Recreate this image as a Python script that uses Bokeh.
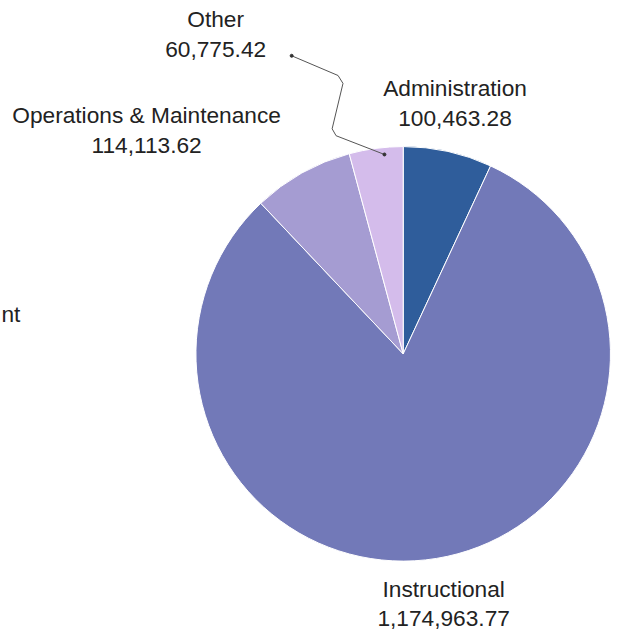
import math
from bokeh.plotting import figure
from bokeh.models import Range1d, ColumnDataSource
from bokeh.core.properties import value
from bokeh.embed import file_html
from bokeh.resources import INLINE

# ---- data ----
categories = ["Administration", "Instructional", "Operations & Maintenance", "Other"]
amounts = [100463.28, 1174963.77, 114113.62, 60775.42]
colors = ["#2F5D9B", "#7279B8", "#A59CD2", "#D4BCEB"]

W, H = 615, 633
S = 0.987  # scale reference layout (623x641) to fit canvas
TXT_DY = 9  # compensate svg baseline offset

def X(px):
    return px * S

def Y(py):
    return H - py * S

p = figure(width=W, height=H, output_backend="svg", toolbar_location=None,
           x_range=Range1d(0, W), y_range=Range1d(0, H), min_border=0)
p.axis.visible = False
p.grid.visible = False
p.outline_line_color = None
p.background_fill_color = "white"

# pie geometry
cx, cy, r = X(408), Y(358), 210 * S
total = sum(amounts)
starts, ends = [], []
acc = 0.0
for a in amounts:
    starts.append(math.pi / 2 - 2 * math.pi * acc / total)
    acc += a
    ends.append(math.pi / 2 - 2 * math.pi * acc / total)

src = ColumnDataSource(dict(start=starts, end=ends, color=colors,
                            x=[cx] * 4, y=[cy] * 4))
p.wedge(x="x", y="y", radius=r, start_angle="start", end_angle="end",
        direction="clock", fill_color="color", line_color="white",
        line_width=1, source=src)

# labels
def fmt(v):
    return f"{v:,.2f}"

label_pos = {
    "Administration": (460.5, 98, 129),
    "Instructional": (449, 605, 635),
    "Operations & Maintenance": (148, 125, 156),
    "Other": (218, 28, 59),
}
xs, ys, txt = [], [], []
for c, v in zip(categories, amounts):
    lx, b1, b2 = label_pos[c]
    xs += [X(lx), X(lx)]
    ys += [Y(b1 - TXT_DY), Y(b2 - TXT_DY)]
    txt += [c, fmt(v)]

FS = f"{23 * S:.1f}px"
p.text(x=xs, y=ys, text=txt, text_align="center", text_baseline="alphabetic",
       text_font=value("Liberation Sans"), text_font_size=FS,
       text_color="#222222")

# partially visible label at left edge in the reference
p.text(x=[X(1)], y=[Y(327 - TXT_DY)], text=["nt"], text_align="left",
       text_baseline="alphabetic", text_font=value("Liberation Sans"),
       text_font_size=FS, text_color="#222222")

# leader line for "Other"
lx = [X(v) for v in [295, 342, 347, 336, 340, 389]]
ly = [Y(v) for v in [56, 76, 84, 130, 137, 156]]
p.line(lx, ly, line_color="#555555", line_width=1)
p.scatter([lx[0], lx[-1]], [ly[0], ly[-1]], size=3, color="#333333")

open("out.html", "w").write(file_html(p, INLINE))
